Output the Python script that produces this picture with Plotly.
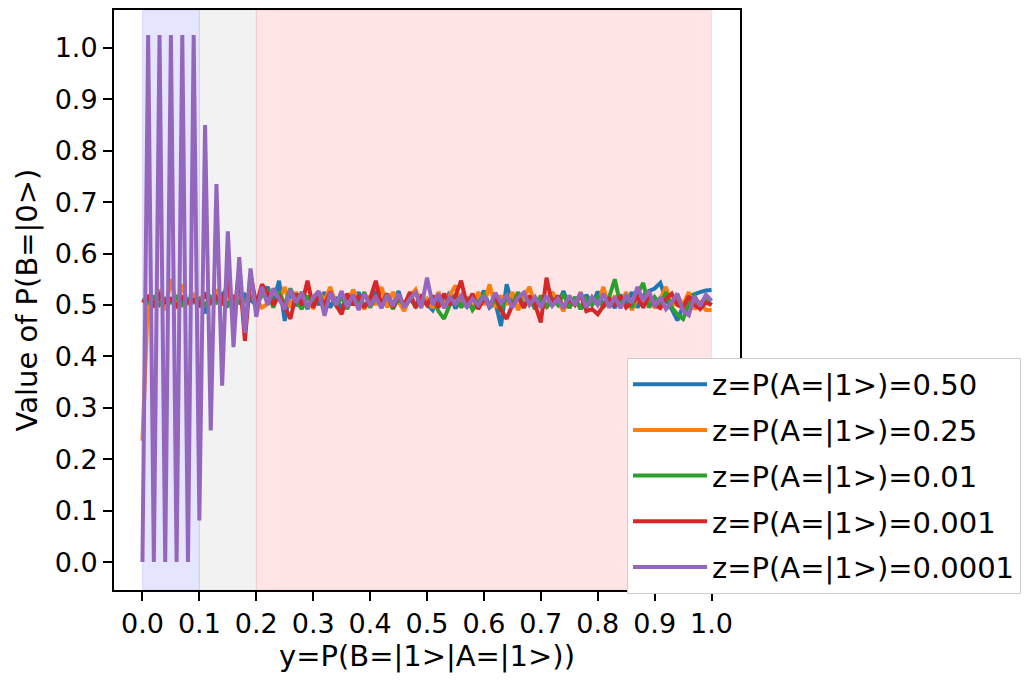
import plotly.graph_objects as go

x_vals = [round(i * 0.01, 2) for i in range(101)]

labels = ["z=P(A=|1>)=0.50", "z=P(A=|1>)=0.25", "z=P(A=|1>)=0.01",
          "z=P(A=|1>)=0.001", "z=P(A=|1>)=0.0001"]
colors = ["#1f77b4", "#ff7f0e", "#2ca02c", "#d62728", "#9467bd"]

z050 = [0.510, 0.508, 0.512, 0.510, 0.509, 0.511, 0.510, 0.508, 0.512, 0.510,
        0.510, 0.484, 0.515, 0.505, 0.520, 0.500, 0.515, 0.505, 0.520, 0.510,
        0.500, 0.520, 0.535, 0.505, 0.547, 0.469, 0.530, 0.498, 0.525, 0.492,
        0.518, 0.500, 0.525, 0.495, 0.515, 0.492, 0.520, 0.500, 0.525, 0.495,
        0.512, 0.528, 0.495, 0.518, 0.500, 0.527, 0.492, 0.512, 0.498, 0.520,
        0.502, 0.490, 0.515, 0.500, 0.525, 0.493, 0.512, 0.497, 0.520, 0.502,
        0.528, 0.495, 0.505, 0.459, 0.540, 0.500, 0.520, 0.495, 0.515, 0.492,
        0.512, 0.497, 0.520, 0.502, 0.527, 0.495, 0.515, 0.492, 0.520, 0.500,
        0.526, 0.500, 0.515, 0.494, 0.520, 0.500, 0.525, 0.495, 0.518, 0.527,
        0.532, 0.543, 0.510, 0.492, 0.470, 0.498, 0.517, 0.522, 0.525, 0.528,
        0.529]

z025 = [0.236, 0.520, 0.500, 0.530, 0.490, 0.550, 0.500, 0.540, 0.500, 0.520,
        0.510, 0.520, 0.500, 0.530, 0.505, 0.520, 0.500, 0.515, 0.505, 0.520,
        0.510, 0.495, 0.502, 0.530, 0.510, 0.535, 0.495, 0.525, 0.500, 0.518,
        0.492, 0.525, 0.508, 0.535, 0.500, 0.518, 0.494, 0.530, 0.508, 0.492,
        0.518, 0.500, 0.535, 0.495, 0.525, 0.508, 0.488, 0.518, 0.530, 0.500,
        0.512, 0.494, 0.525, 0.500, 0.518, 0.538, 0.495, 0.515, 0.492, 0.525,
        0.500, 0.540, 0.495, 0.518, 0.500, 0.525, 0.490, 0.515, 0.535, 0.500,
        0.518, 0.494, 0.525, 0.508, 0.488, 0.518, 0.500, 0.525, 0.494, 0.515,
        0.500, 0.535, 0.495, 0.518, 0.500, 0.525, 0.490, 0.515, 0.500, 0.525,
        0.494, 0.512, 0.535, 0.495, 0.518, 0.500, 0.525, 0.492, 0.505, 0.490,
        0.490]

z001 = [0.510, 0.505, 0.515, 0.500, 0.512, 0.505, 0.515, 0.500, 0.510, 0.505,
        0.512, 0.500, 0.515, 0.505, 0.510, 0.500, 0.515, 0.505, 0.510, 0.515,
        0.505, 0.518, 0.530, 0.495, 0.525, 0.500, 0.532, 0.508, 0.492, 0.518,
        0.500, 0.525, 0.495, 0.520, 0.500, 0.515, 0.492, 0.520, 0.500, 0.525,
        0.495, 0.515, 0.500, 0.522, 0.492, 0.512, 0.500, 0.520, 0.495, 0.512,
        0.500, 0.518, 0.488, 0.473, 0.500, 0.520, 0.495, 0.515, 0.490, 0.505,
        0.520, 0.495, 0.512, 0.488, 0.518, 0.500, 0.525, 0.495, 0.515, 0.492,
        0.518, 0.495, 0.512, 0.500, 0.522, 0.494, 0.515, 0.492, 0.512, 0.500,
        0.518, 0.495, 0.515, 0.550, 0.500, 0.518, 0.495, 0.522, 0.543, 0.495,
        0.515, 0.500, 0.525, 0.495, 0.482, 0.473, 0.502, 0.518, 0.495, 0.510,
        0.500]

z0001 = [0.505, 0.515, 0.500, 0.520, 0.505, 0.512, 0.498, 0.515, 0.505, 0.510,
         0.500, 0.520, 0.505, 0.515, 0.500, 0.550, 0.470, 0.570, 0.430, 0.560,
         0.500, 0.540, 0.522, 0.500, 0.518, 0.495, 0.473, 0.522, 0.500, 0.547,
         0.495, 0.518, 0.500, 0.525, 0.500, 0.482, 0.522, 0.500, 0.518, 0.495,
         0.512, 0.547, 0.500, 0.522, 0.495, 0.518, 0.500, 0.525, 0.495, 0.515,
         0.500, 0.518, 0.495, 0.522, 0.500, 0.518, 0.547, 0.500, 0.522, 0.492,
         0.512, 0.500, 0.518, 0.490, 0.473, 0.500, 0.515, 0.495, 0.518, 0.500,
         0.466, 0.553, 0.500, 0.518, 0.495, 0.512, 0.500, 0.520, 0.488, 0.492,
         0.482, 0.498, 0.512, 0.500, 0.518, 0.495, 0.505, 0.515, 0.495, 0.518,
         0.500, 0.494, 0.512, 0.522, 0.500, 0.495, 0.517, 0.500, 0.492, 0.505,
         0.500]

z00001 = [0.000, 1.025, 0.000, 1.025, 0.000, 1.025, 0.000, 1.025, 0.000, 1.025,
          0.081, 0.850, 0.256, 0.735, 0.343, 0.643, 0.418, 0.593, 0.446, 0.571,
          0.477, 0.535, 0.500, 0.532, 0.512, 0.492, 0.530, 0.505, 0.524, 0.495,
          0.515, 0.527, 0.479, 0.524, 0.500, 0.527, 0.495, 0.520, 0.490, 0.522,
          0.500, 0.515, 0.494, 0.520, 0.498, 0.522, 0.495, 0.512, 0.524, 0.494,
          0.553, 0.500, 0.522, 0.494, 0.515, 0.502, 0.518, 0.495, 0.512, 0.500,
          0.518, 0.495, 0.524, 0.504, 0.518, 0.495, 0.515, 0.524, 0.500, 0.515,
          0.495, 0.518, 0.498, 0.512, 0.494, 0.518, 0.500, 0.524, 0.495, 0.515,
          0.500, 0.522, 0.495, 0.515, 0.494, 0.518, 0.504, 0.535, 0.508, 0.527,
          0.497, 0.515, 0.492, 0.505, 0.522, 0.488, 0.480, 0.517, 0.498, 0.520,
          0.508]

series = [z050, z025, z001, z0001, z00001]

# shaded spans (start, end, colour)
span_starts = [0.0, 0.1, 0.2]
span_ends = [0.1, 0.2, 1.0]
span_colors = ["rgba(0,0,255,0.1)", "rgba(128,128,128,0.1)", "rgba(255,0,0,0.1)"]

x_ticks = [round(i * 0.1, 1) for i in range(11)]
y_ticks = [round(i * 0.1, 1) for i in range(11)]

FONT = "DejaVu Sans"

fig = go.Figure()
for i, (vals, lab, col) in enumerate(zip(series, labels, colors)):
    fig.add_trace(go.Scatter(x=x_vals, y=vals, mode="lines", name=lab,
                             line=dict(color=col, width=4),
                             legendgroup=f"g{i}"))

shapes = []
for s, e, c in zip(span_starts, span_ends, span_colors):
    shapes.append(dict(type="rect", xref="x", yref="paper", x0=s, x1=e, y0=0, y1=1,
                       fillcolor=c, line=dict(color=c, width=1), layer="below"))

fig.update_layout(
    width=1033, height=682,
    margin=dict(l=114, r=293, t=8, b=92),
    paper_bgcolor="white", plot_bgcolor="white",
    font=dict(family=FONT, size=27, color="black"),
    shapes=shapes,
    showlegend=True,
    legend=dict(x=0.8195, y=0.4003, xanchor="left", yanchor="top",
                bgcolor="white", bordercolor="#cccccc", borderwidth=1,
                font=dict(family=FONT, size=29, color="black"),
                tracegroupgap=5, itemwidth=74),
    xaxis=dict(range=[-0.05, 1.05], tickmode="array", tickvals=x_ticks,
               ticktext=[f"{v:.1f}" for v in x_ticks],
               showgrid=False, zeroline=False, showline=True, mirror=True,
               linecolor="black", linewidth=2, ticks="outside", ticklen=9,
               tickwidth=2, tickcolor="black",
               tickfont=dict(family=FONT, size=27),
               title=dict(text="y=P(B=|1>|A=|1>))", standoff=4,
                          font=dict(family=FONT, size=29))),
    yaxis=dict(range=[-0.0543, 1.0736], tickmode="array", tickvals=y_ticks,
               ticktext=[f"{v:.1f}" for v in y_ticks],
               showgrid=False, zeroline=False, showline=True, mirror=True,
               linecolor="black", linewidth=2, ticks="outside", ticklen=9,
               tickwidth=2, tickcolor="black",
               tickfont=dict(family=FONT, size=27),
               title=dict(text="Value of P(B=|0>)", standoff=8,
                          font=dict(family=FONT, size=29))),
)

fig.write_html("out.html")
